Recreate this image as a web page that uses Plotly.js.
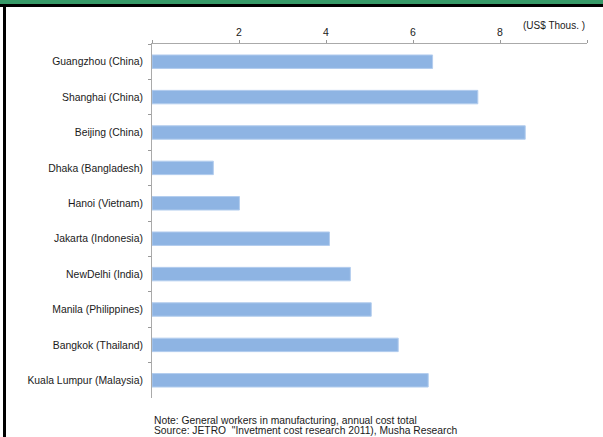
<!DOCTYPE html>
<html>
<head>
<meta charset="utf-8">
<script src="https://cdn.plot.ly/plotly-3.0.1.min.js"></script>
<style>
  html, body { margin: 0; padding: 0; background: #fff; }
  #wrap { position: relative; width: 603px; height: 437px; overflow: hidden; }
  #chart { position: absolute; left: 0; top: 0; width: 603px; height: 437px; }
  .band { position: absolute; left: 0; top: 0; width: 603px; height: 4px; background: #379a68; }
  .rule-top { position: absolute; left: 0; top: 4px; width: 603px; height: 3px; background: #000; }
  .rule-left { position: absolute; left: 3px; top: 4px; width: 3px; height: 433px; background: #000; }
</style>
</head>
<body>
<div id="wrap">
  <div id="chart"></div>
  <div class="band"></div>
  <div class="rule-top"></div>
  <div class="rule-left"></div>
</div>
<script>
// Annual cost of a general manufacturing worker, by city (US$ thousands)
const cities = [
  "Guangzhou (China)",
  "Shanghai (China)",
  "Beijing (China)",
  "Dhaka (Bangladesh)",
  "Hanoi (Vietnam)",
  "Jakarta (Indonesia)",
  "NewDelhi (India)",
  "Manila (Philippines)",
  "Bangkok (Thailand)",
  "Kuala Lumpur (Malaysia)"
];
const annualCost = [6.45, 7.49, 8.58, 1.41, 2.01, 4.08, 4.56, 5.04, 5.66, 6.35];

const xTickVals = [0, 2, 4, 6, 8, 10];
const xTickText = ["", "2", "4", "6", "8", ""];

const unitLabel = "(US$ Thous. )";
const noteLines = [
  "Note: General workers in manufacturing, annual cost total",
  "Source: JETRO  \"Invetment cost research 2011), Musha Research"
];

const font = "Liberation Sans, Arial, sans-serif";
const textColor = "#1a1a1a";

const trace = {
  type: "bar",
  orientation: "h",
  y: cities,
  x: annualCost,
  marker: { color: "#8eb4e3", line: { color: "#b3cdee", width: 1 } },
  hoverinfo: "skip"
};

// footnote lines, stacked under the plot
const notes = noteLines.map((line, i) => ({
  text: line,
  xref: "paper", yref: "paper",
  x: 0, y: 0, xanchor: "left", yanchor: "middle",
  xshift: 0, yshift: -22 - i * 10,
  showarrow: false,
  font: { family: font, size: 10.3, color: textColor }
}));

const layout = {
  width: 603,
  height: 437,
  margin: { l: 152, r: 16, t: 44, b: 39 },
  paper_bgcolor: "#ffffff",
  plot_bgcolor: "#ffffff",
  showlegend: false,
  bargap: 0.62,
  font: { family: font, size: 10, color: textColor },
  xaxis: {
    side: "top",
    range: [0, 10],
    tickvals: xTickVals,
    ticktext: xTickText,
    ticks: "outside",
    ticklen: 3,
    tickcolor: "#999",
    showline: true,
    linecolor: "#aaa",
    linewidth: 1,
    showgrid: false,
    zeroline: false,
    fixedrange: true,
    tickfont: { family: font, size: 10.5, color: textColor }
  },
  yaxis: {
    type: "category",
    autorange: "reversed",
    ticks: "outside",
    tickson: "boundaries",
    ticklen: 3,
    tickcolor: "#999",
    showline: true,
    linecolor: "#aaa",
    linewidth: 1,
    showgrid: false,
    zeroline: false,
    fixedrange: true,
    ticklabelstandoff: 6,
    tickfont: { family: font, size: 10.4, color: textColor }
  },
  annotations: [
    {
      text: unitLabel,
      xref: "paper", yref: "paper",
      x: 1, y: 1, xanchor: "right", yanchor: "bottom",
      yshift: 11,
      showarrow: false,
      font: { family: font, size: 10, color: textColor }
    }
  ].concat(notes)
};

Plotly.newPlot("chart", [trace], layout, { displayModeBar: false, staticPlot: true });
</script>
</body>
</html>
